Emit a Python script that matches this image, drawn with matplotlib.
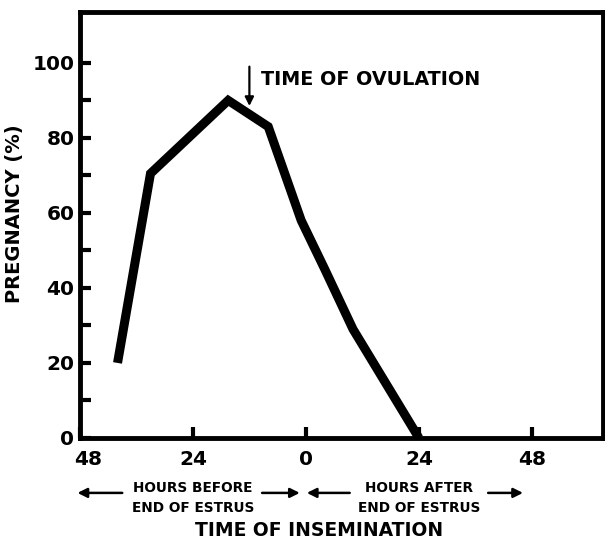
import matplotlib
matplotlib.use("Agg")
import matplotlib.pyplot as plt
from matplotlib.transforms import ScaledTranslation

# hours relative to end of estrus (negative = before)
hours = [-40, -33, -16.5, -8, -1, 4, 10, 24]
pregnancy = [20, 70.5, 90, 83, 58, 45, 29, 0]

xticks = [-48, -24, 0, 24, 48]
xtick_labels = ["48", "24", "0", "24", "48"]
yticks = [0, 20, 40, 60, 80, 100]
ovulation_hour = -12

plt.rcParams["font.family"] = ["DejaVu Sans"]
plt.rcParams["font.weight"] = "bold"

fig = plt.figure(figsize=(6.05, 5.4), dpi=100)
ax = fig.add_axes([0.132, 0.189, 0.864, 0.789])

ax.plot(hours, pregnancy, color="black", lw=6.5, solid_joinstyle="miter",
        solid_capstyle="butt")

ax.set_xlim(-48, 63)
ax.set_ylim(0, 113.6)

for s in ax.spines.values():
    s.set_linewidth(3.5)

ax.set_yticks(yticks)
ax.set_yticks(range(10, 100, 20), minor=True)
ax.set_xticks(xticks)
ax.set_xticklabels(xtick_labels)
ax.tick_params(axis="both", which="both", direction="in", width=3, length=8)
ax.tick_params(axis="y", which="both", right=False, labelsize=14.5, pad=4)
ax.tick_params(axis="x", top=False, labelsize=14.5, pad=9)

# first x label sits slightly right of the corner
lab0 = ax.get_xticklabels()[0]
lab0.set_transform(lab0.get_transform() + ScaledTranslation(8 / 100, 0, fig.dpi_scale_trans))

ax.set_ylabel("PREGNANCY (%)", fontsize=14, fontweight="bold")
ax.yaxis.set_label_coords(-0.107, 0.526)

# time of ovulation marker
ax.annotate("", xy=(ovulation_hour, 88.5), xytext=(ovulation_hour, 99),
            arrowprops=dict(arrowstyle="-|>", color="black", lw=1.6,
                            mutation_scale=13, shrinkA=0, shrinkB=0))
ax.text(ovulation_hour + 2.5, 95.5, "TIME OF OVULATION", fontsize=13.8,
        fontweight="bold", va="center", ha="left")

# bottom annotations
tr = ax.get_xaxis_transform()
ax.text(-24, -0.117, "HOURS BEFORE", transform=tr, ha="center", va="center",
        fontsize=9.8, fontweight="bold")
ax.text(-24, -0.164, "END OF ESTRUS", transform=tr, ha="center", va="center",
        fontsize=9.8, fontweight="bold")
ax.text(24, -0.117, "HOURS AFTER", transform=tr, ha="center", va="center",
        fontsize=9.8, fontweight="bold")
ax.text(24, -0.164, "END OF ESTRUS", transform=tr, ha="center", va="center",
        fontsize=9.8, fontweight="bold")

arrows = [(-39, -48.5), (-9.3, -1.3), (9.3, 0.2), (38.7, 46.1)]
for tail, tip in arrows:
    ax.annotate("", xy=(tip, -0.129), xytext=(tail, -0.129),
                xycoords=tr, textcoords=tr, annotation_clip=False,
                arrowprops=dict(arrowstyle="-|>", color="black", lw=1.8,
                                mutation_scale=14, shrinkA=0, shrinkB=0))

ax.text(0.457, -0.218, "TIME OF INSEMINATION", transform=ax.transAxes,
        ha="center", va="center", fontsize=13.5, fontweight="bold")

fig.savefig("out.png", dpi=100)
